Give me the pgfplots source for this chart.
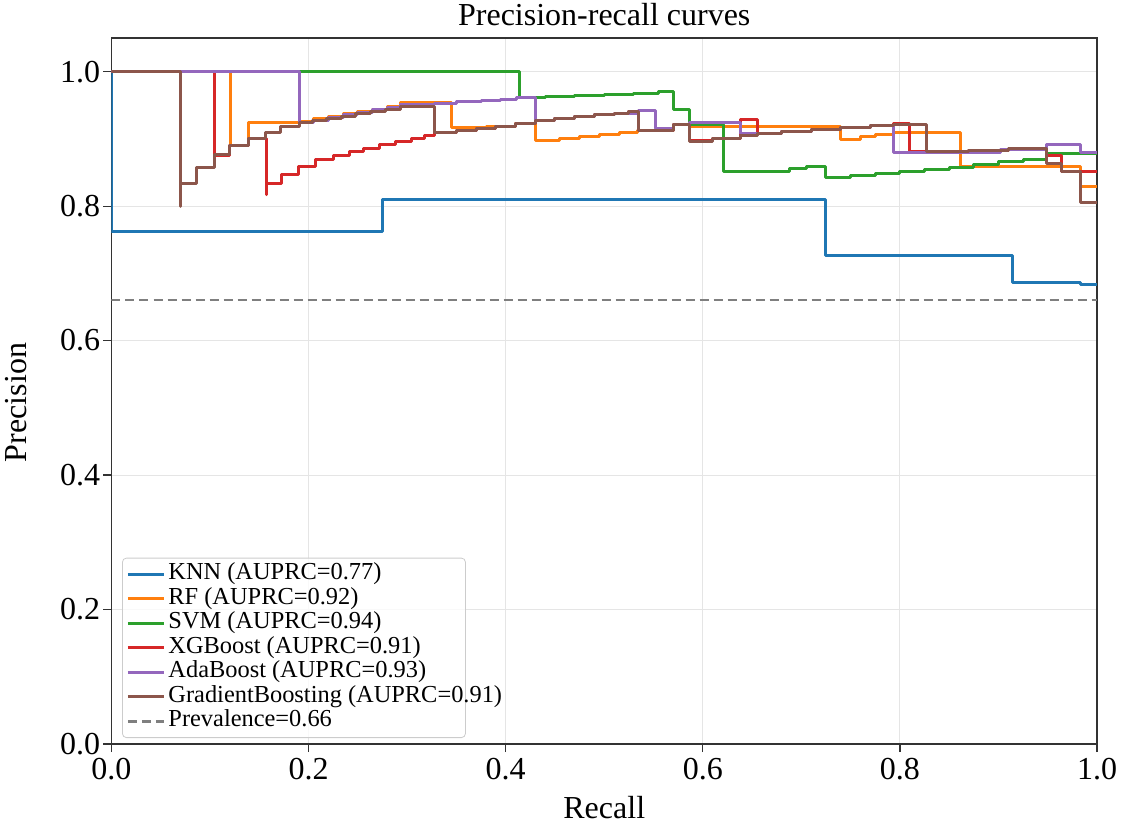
\documentclass[border=0pt]{standalone}
\usepackage{fontspec}
\setmainfont{Liberation Serif}
\usepackage{pgfplots}
\pgfplotsset{compat=1.18}
\definecolor{tabblue}{HTML}{1F77B4}
\definecolor{taborange}{HTML}{FF7F0E}
\definecolor{tabgreen}{HTML}{2CA02C}
\definecolor{tabred}{HTML}{D62728}
\definecolor{tabpurple}{HTML}{9467BD}
\definecolor{tabbrown}{HTML}{8C564B}
\definecolor{tabgray}{HTML}{7F7F7F}
\begin{document}
\begin{tikzpicture}
\useasboundingbox (-55.75pt,-41.5pt) rectangle (510.75pt,372pt);
\begin{axis}[
  scale only axis, width=492.75pt, height=353pt,
  xmin=0, xmax=1, ymin=0, ymax=1.05,
  xtick={0,0.2,0.4,0.6,0.8,1.0}, ytick={0,0.2,0.4,0.6,0.8,1.0},
  /pgf/number format/assume math mode=true,
  /pgf/number format/fixed, /pgf/number format/fixed zerofill, /pgf/number format/precision=1,
  tick align=outside, xtick pos=bottom, ytick pos=left,
  major tick length=4pt,
  grid=major, grid style={black!10, line width=0.5pt},
  axis line style={black!80, line width=0.6pt},
  tick style={black!80, line width=0.6pt},
  ticklabel style={font=\fontsize{16}{19}\selectfont},
  yticklabel style={inner xsep=1.5pt},
  xticklabel style={inner ysep=3pt},
  title={Precision-recall curves},
  title style={at={(axis description cs:0.5,1.0184)}, anchor=base, yshift=-6pt, font=\fontsize{16}{19}\selectfont},
  xlabel={Recall},
  xlabel style={at={(axis description cs:0.5,-0.1048)}, anchor=base, font=\fontsize{16}{19}\selectfont},
  ylabel={Precision},
  ylabel style={at={(axis description cs:-0.086,0.4837)}, anchor=base, rotate=0, font=\fontsize{16}{19}\selectfont},
  legend cell align=left,
  legend image code/.code={\draw[#1] (0pt,0pt) -- (18pt,0pt);},
  legend style={at={(axis description cs:0.0107,0.0085)}, anchor=south west,
    draw=black!20, fill=white, fill opacity=0.8, text opacity=1, rounded corners=2pt,
    font=\fontsize{12.2}{14}\selectfont, inner xsep=2pt, inner ysep=2pt, row sep=0pt,
    nodes={inner xsep=1.5pt, inner ysep=0pt, text height=8.8pt, text depth=3.45pt}},
  every axis plot/.append style={line width=1.5pt, line join=round},
]
% KNN
\addplot[tabblue, const plot] coordinates {
(0,1) (0,0.762) (0.2745,0.810) (0.724,0.727) (0.9145,0.687) (0.983,0.683) (1,0.683)};
\addlegendentry{\makebox[145pt][l]{KNN (AUPRC=0.77)}}
% RF
\addplot[taborange, const plot] coordinates {
(0,1) (0.121,0.890) (0.139,0.924) (0.191,0.926) (0.205,0.930) (0.22,0.933) (0.235,0.937)
(0.25,0.940) (0.265,0.944) (0.28,0.948) (0.293,0.954) (0.345,0.917) (0.381,0.918) (0.39,0.919)
(0.41,0.923) (0.430,0.897) (0.455,0.900) (0.475,0.903) (0.495,0.906) (0.515,0.909) (0.534,0.912)
(0.570,0.922) (0.587,0.918) (0.740,0.899) (0.760,0.903) (0.775,0.906) (0.793,0.909)
(0.861,0.859) (0.983,0.829) (1,0.829)};
\addlegendentry{\makebox[145pt][l]{RF (AUPRC=0.92)}}
% SVM
\addplot[tabgreen, const plot] coordinates {
(0,1) (0.4145,0.962) (0.44,0.963) (0.47,0.965) (0.50,0.966) (0.53,0.968) (0.555,0.971)
(0.570,0.943) (0.587,0.921) (0.621,0.852) (0.688,0.856) (0.705,0.859) (0.724,0.842)
(0.75,0.845) (0.775,0.848) (0.80,0.851) (0.825,0.854) (0.85,0.857) (0.875,0.862)
(0.90,0.866) (0.925,0.870) (0.949,0.878) (1,0.878)};
\addlegendentry{\makebox[145pt][l]{SVM (AUPRC=0.94)}}
% XGBoost
\addplot[tabred, const plot] coordinates {
(0,1) (0.105,0.876) (0.120,0.890) (0.139,0.901) (0.157,0.817) (0.157,0.833) (0.1727,0.847)
(0.1895,0.859) (0.2065,0.869) (0.225,0.875) (0.241,0.881) (0.256,0.886) (0.272,0.891)
(0.288,0.896) (0.304,0.900) (0.318,0.905) (0.328,0.910) (0.35,0.913) (0.37,0.916)
(0.39,0.919) (0.41,0.923) (0.43,0.927) (0.45,0.930) (0.47,0.933) (0.49,0.936) (0.51,0.938)
(0.525,0.941) (0.5345,0.913) (0.570,0.921) (0.587,0.897) (0.61,0.901) (0.638,0.929)
(0.655,0.908) (0.68,0.911) (0.71,0.914) (0.74,0.917) (0.77,0.920) (0.793,0.923)
(0.810,0.881) (0.87,0.882) (0.91,0.884) (0.949,0.876) (0.964,0.852) (1,0.852)};
\addlegendentry{\makebox[145pt][l]{XGBoost (AUPRC=0.91)}}
% AdaBoost
\addplot[tabpurple, const plot] coordinates {
(0,1) (0.191,0.924) (0.205,0.928) (0.22,0.932) (0.235,0.936) (0.25,0.939) (0.265,0.943)
(0.28,0.947) (0.293,0.951) (0.328,0.953) (0.35,0.955) (0.375,0.957) (0.395,0.959)
(0.411,0.962) (0.430,0.927) (0.45,0.930) (0.47,0.933) (0.49,0.936) (0.51,0.938)
(0.5345,0.942) (0.5515,0.916) (0.570,0.921) (0.587,0.925) (0.638,0.908) (0.68,0.911)
(0.71,0.914) (0.74,0.917) (0.77,0.920) (0.793,0.879) (0.85,0.880) (0.902,0.884)
(0.949,0.891) (0.983,0.879) (1,0.879)};
\addlegendentry{\makebox[145pt][l]{AdaBoost (AUPRC=0.93)}}
% GradientBoosting
\addplot[tabbrown, const plot] coordinates {
(0,1) (0.0702,0.7995) (0.0702,0.833) (0.0865,0.858) (0.105,0.8765) (0.120,0.890)
(0.139,0.901) (0.156,0.909) (0.171,0.918) (0.191,0.924) (0.204,0.928) (0.218,0.931)
(0.233,0.934) (0.248,0.937) (0.263,0.940) (0.278,0.944) (0.293,0.948) (0.328,0.910)
(0.35,0.913) (0.37,0.916) (0.39,0.919) (0.41,0.923) (0.43,0.927) (0.45,0.930) (0.47,0.933)
(0.49,0.936) (0.51,0.938) (0.525,0.941) (0.5345,0.912) (0.570,0.921) (0.587,0.896)
(0.61,0.901) (0.638,0.905) (0.655,0.908) (0.68,0.911) (0.71,0.914) (0.74,0.917)
(0.77,0.920) (0.793,0.922) (0.827,0.881) (0.87,0.882) (0.91,0.885) (0.949,0.864)
(0.964,0.852) (0.983,0.805) (1,0.805)};
\addlegendentry{\makebox[145pt][l]{GradientBoosting (AUPRC=0.91)}}
% Prevalence
\addplot[tabgray, line width=1.2pt, dash pattern=on 4.5pt off 2.5pt] coordinates {(0,0.66) (1,0.66)};
\addlegendentry{\makebox[145pt][l]{Prevalence=0.66}}
\end{axis}
\end{tikzpicture}
\end{document}
